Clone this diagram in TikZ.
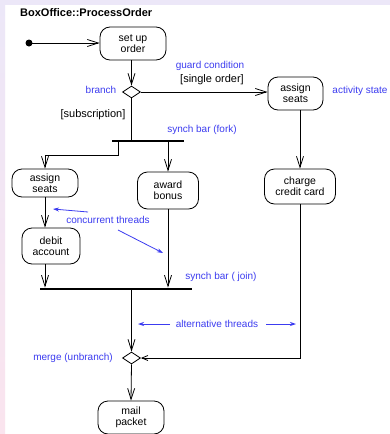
\documentclass[tikz,border=0pt]{standalone}
\usepackage{fontspec}
\setmainfont{Liberation Sans}
\usetikzlibrary{arrows.meta,shapes.geometric}
\definecolor{noteblue}{RGB}{60,60,240}
\definecolor{lav}{RGB}{236,231,248}
\definecolor{pinkish}{RGB}{250,228,238}
\tikzset{
 act/.style={draw, rounded corners=10pt, align=center, font=\fontsize{10.5}{11}\selectfont, inner sep=0pt, line width=0.8pt},
 syncbar/.style={fill=black, inner sep=0pt, minimum height=2.5pt},
 dia/.style={draw, diamond, aspect=1.5, minimum width=18pt, minimum height=12pt, inner sep=0pt, line width=0.8pt},
 arr/.style={line width=0.8pt, -{Straight Barb[length=11pt,width=7pt]}},
 smallarr/.style={line width=0.8pt, -{Straight Barb[length=6pt,width=5pt]}},
 ln/.style={line width=0.8pt},
 note/.style={text=noteblue, font=\fontsize{10}{12}\selectfont, inner sep=0pt},
 guard/.style={font=\fontsize{11}{13}\selectfont, inner sep=0pt},
 barr/.style={draw=noteblue, line width=0.8pt, -{Stealth[length=6pt,width=4pt]}},
}
\begin{document}
\begin{tikzpicture}[x=1pt,y=-1pt]
\useasboundingbox (0,0) rectangle (390,434);
\fill[white] (0,0) rectangle (390,434);
\fill[lav] (0,0) rectangle (390,5);
\shade[top color=lav, bottom color=pinkish] (0,0) rectangle (5,434);

\node[font=\bfseries\fontsize{11}{13}\selectfont, anchor=west, inner sep=0pt] (title) at (20,13) {BoxOffice::ProcessOrder};

\fill (29,43) circle (3.5pt) coordinate (start);
\node[act, minimum width=66pt, minimum height=33pt] (setup) at (133,43.5) {set up\\order};
\node[dia] (d1) at (131.5,92) {};
\node[act, minimum width=55pt, minimum height=33pt] (assignR) at (295.5,93.5) {assign\\seats};
\node[act, minimum width=71pt, minimum height=35pt] (charge) at (300,186.5) {charge\\credit card};
\node[syncbar, minimum width=72pt] (fork) at (148,141) {};
\node[act, minimum width=66pt, minimum height=28pt] (assignL) at (45,183) {assign\\seats};
\node[act, minimum width=61pt, minimum height=37pt] (award) at (168,190.5) {award\\bonus};
\node[act, minimum width=58pt, minimum height=36pt] (debit) at (51,246) {debit\\account};
\node[syncbar, minimum width=152pt] (join) at (116,289) {};
\node[dia] (merge) at (131.5,358) {};
\node[act, minimum width=66pt, minimum height=33pt] (mail) at (131,417.5) {mail\\packet};

\coordinate (fl) at (118,141);

\draw[arr] (start) -- (start -| setup.west);
\draw[arr] (setup.south -| d1) -- (d1.north);
\draw[arr] (d1.east) -- (d1.east -| assignR.west);
\draw[arr] (charge.north |- assignR.south) -- (charge.north);
\draw[ln] (d1.south) -- (d1.south |- fork.north);
\draw[arr] (fl) -- ++(0,14) -| (assignL.north);
\draw[arr] (fork.south -| award) -- (award.north);
\draw[arr] (assignL.south) -- (assignL.south |- debit.north);
\draw[arr] (assignL.south |- debit.south) -- (assignL.south |- join.north);
\draw[arr] (award.south) -- (award.south |- join.north);
\draw[arr] (merge.north |- join.south) -- (merge.north);
\draw[smallarr] (charge.south) |- (merge.east);
\draw[arr] (merge.south) -- (mail.north);

\node[note] (lguard) at (210,66) {guard condition};
\node[guard] (lsingle) at (212,80) {[single order]};
\node[note] (lbranch) at (101,90) {branch};
\node[note] (lstate) at (360,91) {activity state};
\node[guard] (lsub) at (93,115) {[subscription]};
\node[note] (lfork) at (202,130) {synch bar (fork)};
\node[note] (lconc) at (108,220) {concurrent threads};
\node[note] (ljoin) at (221,277) {synch bar ( join)};
\node[note] (lalt) at (217,323.5) {alternative threads};
\node[note] (lmerge) at (73,358) {merge (unbranch)};

\coordinate (c1a) at (88,212);
\coordinate (c1b) at (53,209);
\coordinate (c2a) at (118,230);
\coordinate (c2b) at (163,253);
\coordinate (a1a) at (170,324);
\coordinate (a1b) at (138,324);
\coordinate (a2a) at (266,324);
\coordinate (a2b) at (296,324);
\draw[barr] (c1a) -- (c1b);
\draw[barr] (c2a) -- (c2b);
\draw[barr] (a1a) -- (a1b);
\draw[barr] (a2a) -- (a2b);
\end{tikzpicture}
\end{document}
